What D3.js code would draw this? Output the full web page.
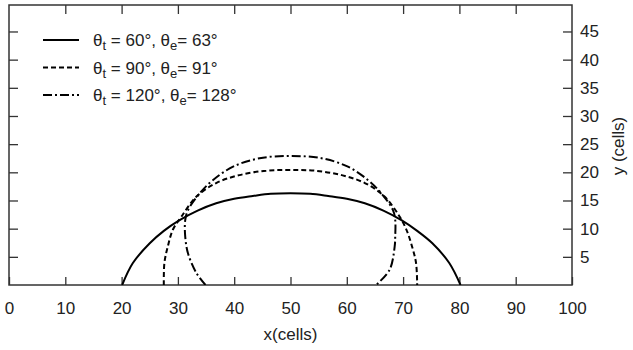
<!DOCTYPE html>
<html>
<head>
<meta charset="utf-8">
<script src="https://cdn.jsdelivr.net/npm/d3@7"></script>
<style>
  body { margin: 0; background: #fff; }
  svg text { font-family: "Liberation Sans", Arial, sans-serif !important; fill: #222; }
</style>
</head>
<body>
<div id="chart"></div>
<script>
// droplet profiles (x, y in cells)
var profile60x = [20.1, 22.0, 25.0, 27.5, 30.3, 33.5, 36.8, 40.0, 43.3, 46.5, 50.0, 53.5, 56.7, 60.0, 63.2, 66.5, 69.7, 72.5, 75.2, 78.2, 80.2];
var profile60y = [0, 3.9, 7.4, 9.6, 11.5, 13.2, 14.5, 15.3, 15.8, 16.2, 16.3, 16.2, 15.8, 15.3, 14.5, 13.2, 11.5, 9.6, 7.4, 3.9, 0];

var profile90x = [27.5, 27.6, 28.2, 29.1, 30.6, 33.3, 36.8, 40.9, 45.7, 50.0, 54.3, 59.1, 63.2, 66.7, 69.4, 70.6, 71.6, 72.3, 72.5];
var profile90y = [0, 3.9, 6.8, 9.8, 12.1, 15.7, 18.1, 19.5, 20.3, 20.4, 20.3, 19.5, 18.1, 15.7, 12.1, 9.8, 6.8, 3.9, 0];

var profile120x = [34.9, 33.3, 31.8, 31.3, 31.3, 31.8, 33.9, 36.2, 39.8, 44.5, 50.0, 55.5, 60.2, 63.8, 66.1, 68.2, 68.6, 68.6, 68.5, 67.6, 65.2];
var profile120y = [0, 2.1, 5.6, 8.6, 11.5, 13.3, 16.3, 18.6, 21.0, 22.5, 22.9, 22.5, 21.0, 18.6, 16.3, 13.3, 11.5, 8.6, 6.8, 2.7, 0];

var seriesNames = ["60", "90", "120"];
var thetaT = ["60°", "90°", "120°"];
var thetaE = ["63°", "91°", "128°"];

var xTicks = [0, 10, 20, 30, 40, 50, 60, 70, 80, 90, 100];
var yTicks = [5, 10, 15, 20, 25, 30, 35, 40, 45];

var margin = { top: 5, right: 61, bottom: 65, left: 9 },
    width = 633 - margin.left - margin.right,
    height = 350 - margin.top - margin.bottom;

var svg = d3.select("#chart")
    .append("svg")
    .attr("width", 633)
    .attr("height", 350)
    .append("g")
    .attr("transform", "translate(" + margin.left + "," + margin.top + ")");

var x = d3.scaleLinear().domain([0, 100]).range([0, width]);
var y = d3.scaleLinear().domain([0, 49.7]).range([height, 0]);

// bottom axis with labels, ticks pointing in
svg.append("g")
    .attr("transform", "translate(0," + height + ")")
    .call(d3.axisBottom(x).tickValues(xTicks).tickSize(-8).tickSizeOuter(0).tickPadding(17))
    .call(g => g.select(".domain").remove())
    .selectAll("text")
    .style("font-size", "17px")
    .attr("fill", "#222");

// top axis, ticks only
svg.append("g")
    .call(d3.axisTop(x).tickValues(xTicks.slice(1, -1)).tickSize(-9).tickFormat(""))
    .call(g => g.select(".domain").remove());

// left axis, ticks only
svg.append("g")
    .call(d3.axisLeft(y).tickValues(yTicks).tickSize(-9).tickFormat(""))
    .call(g => g.select(".domain").remove());

// right axis with labels
svg.append("g")
    .attr("transform", "translate(" + width + ",0)")
    .call(d3.axisRight(y).tickValues(yTicks).tickSize(-9).tickPadding(8))
    .call(g => g.select(".domain").remove())
    .selectAll("text")
    .style("font-size", "17px")
    .attr("fill", "#222");

svg.selectAll(".tick line").attr("stroke", "#333").attr("stroke-width", 1.3);

// frame
svg.append("rect")
    .attr("width", width)
    .attr("height", height)
    .attr("fill", "none")
    .attr("stroke", "#333")
    .attr("stroke-width", 1.5);

// titles
svg.append("text")
    .attr("x", width / 2)
    .attr("y", height + 55)
    .attr("text-anchor", "middle")
    .style("font-size", "17px")
    .text("x(cells)");

svg.append("text")
    .attr("transform", "translate(" + (width + 52) + "," + (146 - margin.top) + ") rotate(-90)")
    .attr("text-anchor", "middle")
    .style("font-size", "17px")
    .text("y (cells)");

// curves
var dashes = ["none", "5,3", "9,3,2,3"];
var series = [
    { xs: profile60x, ys: profile60y },
    { xs: profile90x, ys: profile90y },
    { xs: profile120x, ys: profile120y }
];

var line = d3.line()
    .x(d => x(d[0]))
    .y(d => y(d[1]))
    .curve(d3.curveCatmullRom.alpha(0.5));

svg.append("clipPath").attr("id", "plotclip")
    .append("rect").attr("width", width).attr("height", height);

series.forEach(function (s, i) {
    var pts = s.xs.map((v, j) => [v, s.ys[j]]);
    svg.append("path")
        .datum(pts)
        .attr("d", line)
        .attr("fill", "none")
        .attr("stroke", "#000")
        .attr("stroke-width", 2)
        .attr("stroke-dasharray", dashes[i])
        .attr("clip-path", "url(#plotclip)");
});

// legend
var legend = svg.append("g").attr("transform", "translate(" + (43 - margin.left) + "," + (40 - margin.top) + ")");
seriesNames.forEach(function (name, i) {
    var row = legend.append("g").attr("transform", "translate(0," + (i * 27.5) + ")");
    row.append("line")
        .attr("x1", 0).attr("x2", 36)
        .attr("stroke", "#000")
        .attr("stroke-width", 2)
        .attr("stroke-dasharray", dashes[i]);
    var t = row.append("text")
        .attr("x", 50)
        .attr("y", 6)
        .style("font-size", "17px");
    t.append("tspan").text("θ");
    t.append("tspan").attr("dy", 4).style("font-size", "13px").text("t");
    t.append("tspan").attr("dy", -4).text(" = " + thetaT[i] + ", θ");
    t.append("tspan").attr("dy", 4).style("font-size", "13px").text("e");
    t.append("tspan").attr("dy", -4).text("= " + thetaE[i]);
});
</script>
</body>
</html>
